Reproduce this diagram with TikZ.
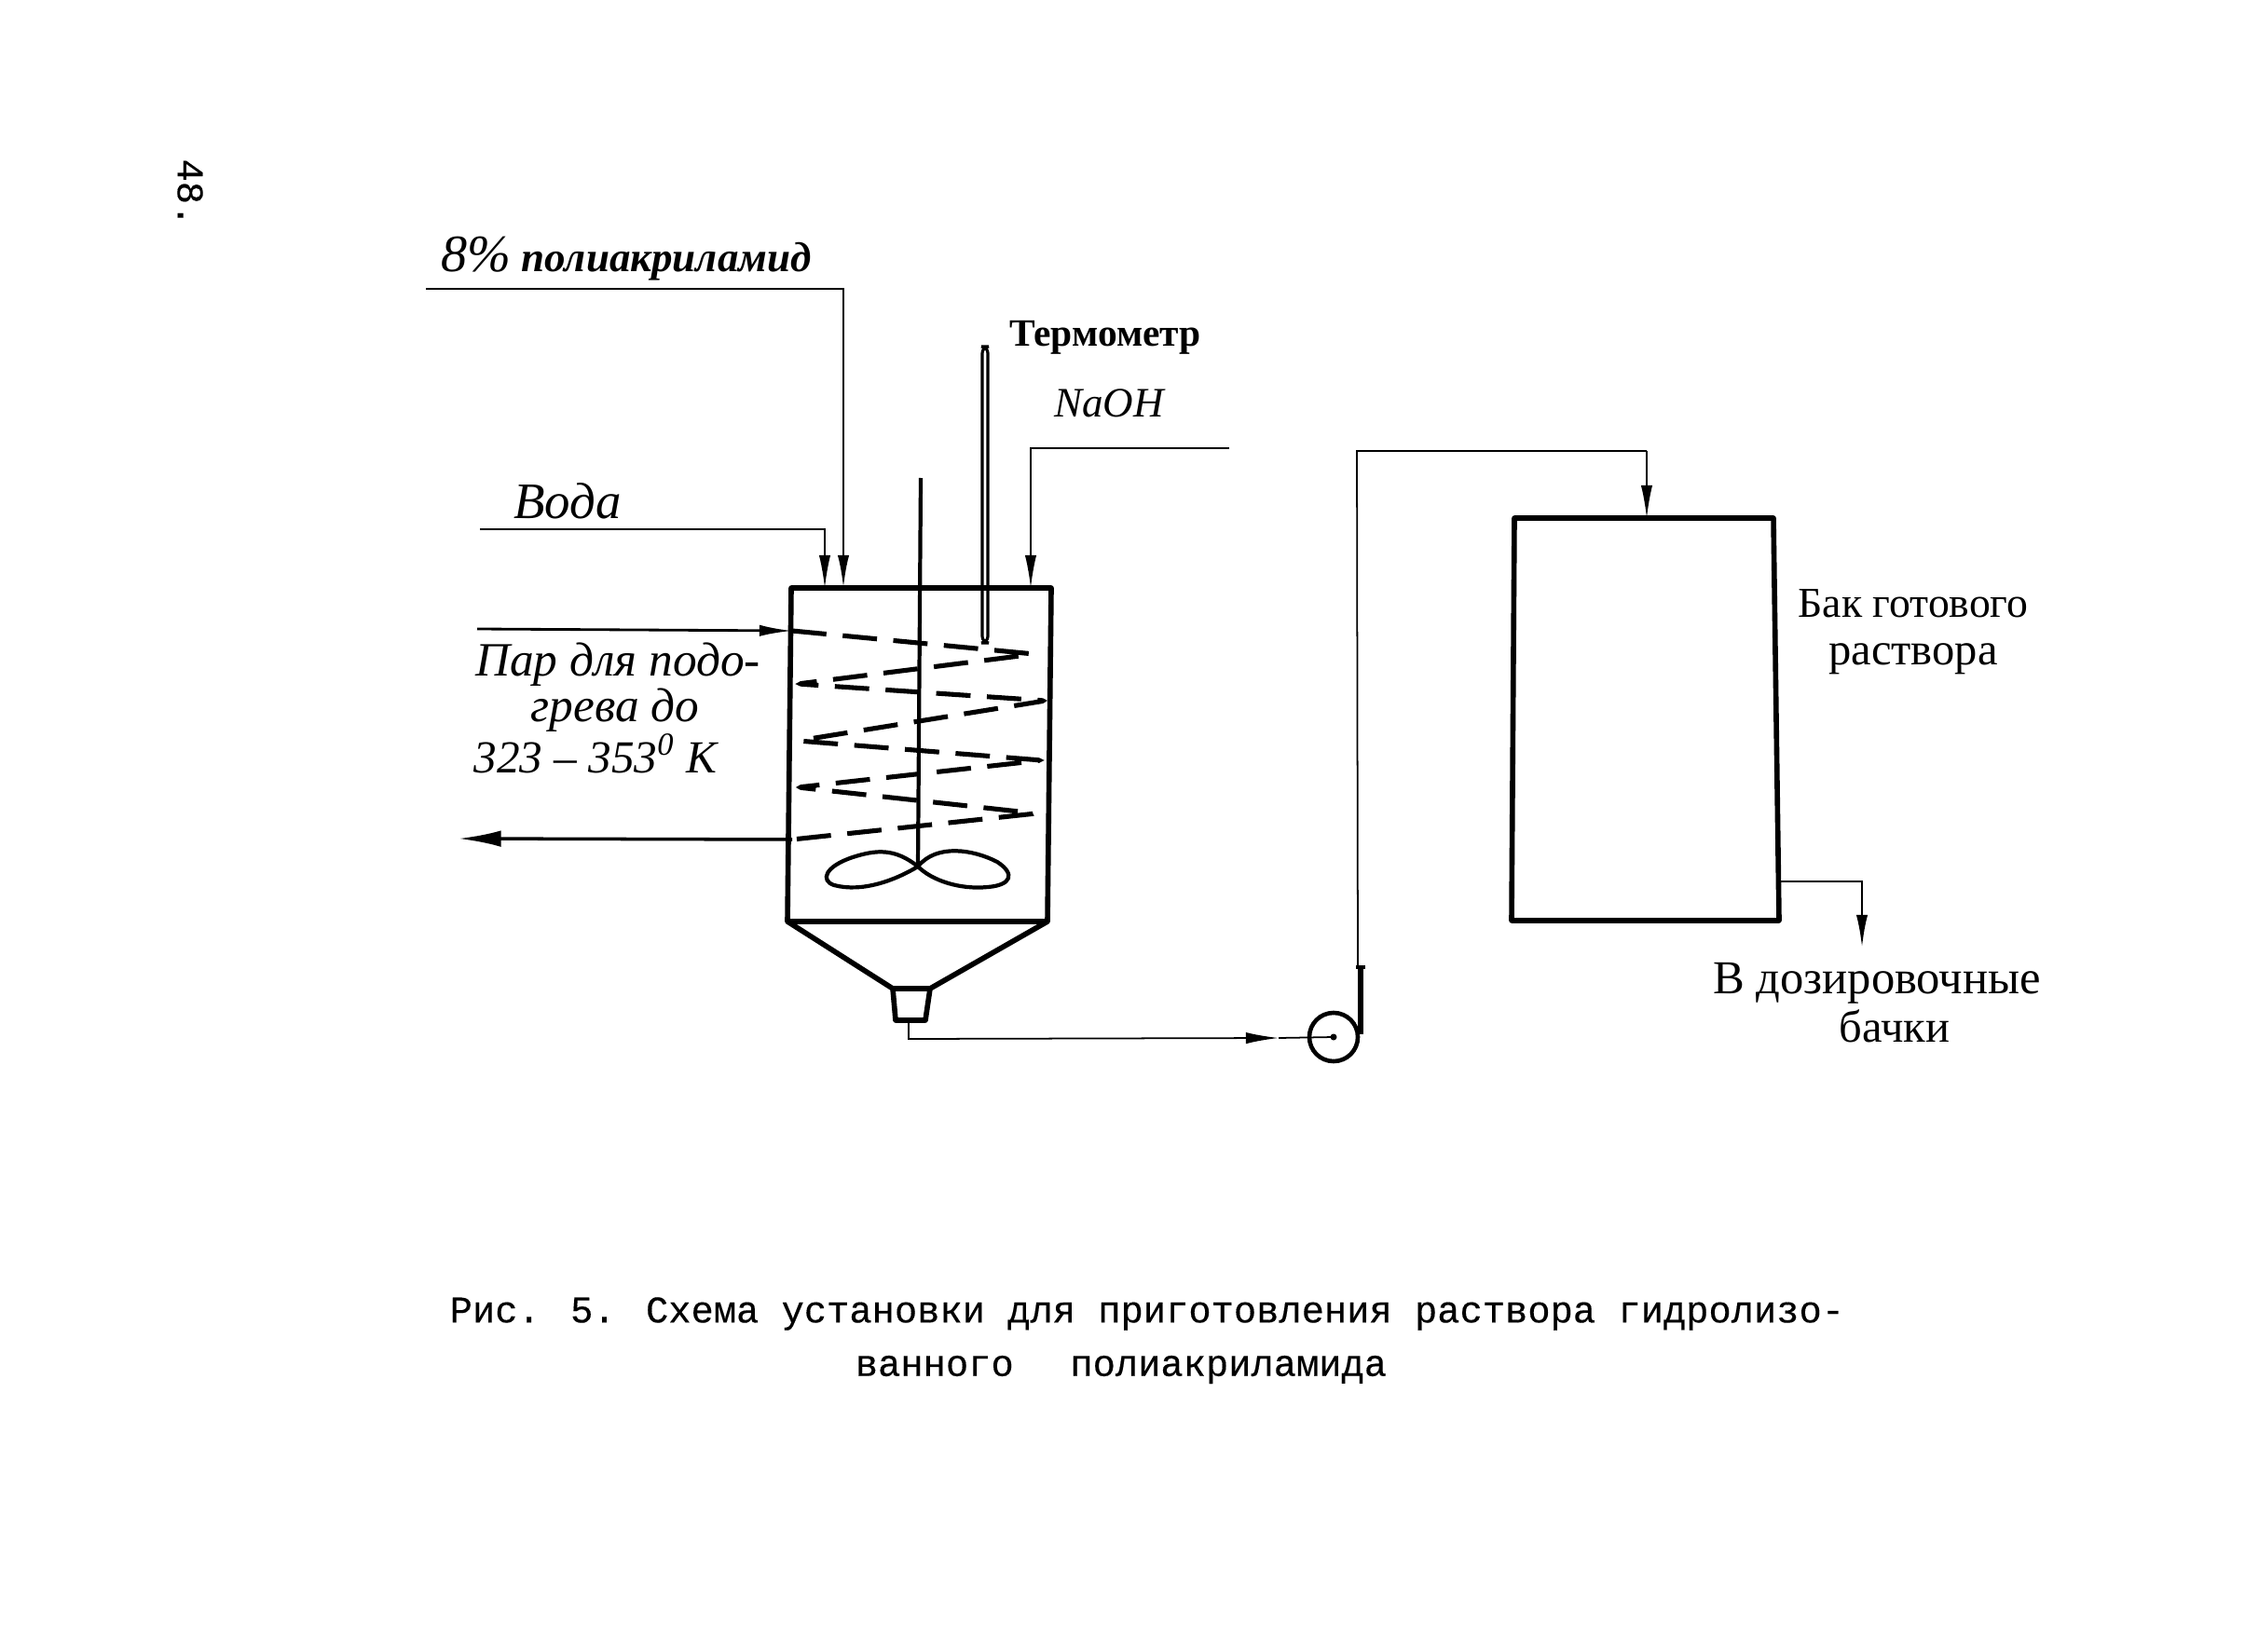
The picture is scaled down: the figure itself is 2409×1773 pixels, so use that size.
\documentclass[tikz,border=0pt]{standalone}
\usepackage{fontspec}
\setmainfont{Liberation Serif}
\newfontfamily\typefont[FakeBold=0.3]{Liberation Mono}
\usetikzlibrary{arrows.meta,calc,positioning}

\begin{document}
\begin{tikzpicture}[
  x=0.01cm,y=-0.01cm,
  >={Latex[length=10pt,width=3.5pt]},
  wall/.style={line width=1.6pt,line join=round},
  feed/.style={->,line width=0.8pt},
  pipe/.style={->,line width=0.5pt},
  coil/.style={line width=1.45pt,dash pattern=on 10.5pt off 5pt,rounded corners=1.5pt},
  hand/.style={font=\itshape\fontsize{14.6}{17}\selectfont,inner sep=0pt,anchor=base},
  plain/.style={font=\fontsize{13}{15}\selectfont,inner sep=0pt},
  caption/.style={font=\typefont\fontsize{11.5}{14}\selectfont,inner sep=0pt}
]
  \useasboundingbox (0,0) rectangle (2409,1773);

  % mixing vessel
  \coordinate (m1) at (849,631);
  \coordinate (m2) at (1128,631);
  \coordinate (m3) at (1124,989);
  \coordinate (m4) at (845,989);
  \coordinate (c1) at (958,1061);
  \coordinate (c2) at (998,1061);
  \coordinate (n1) at (961,1095);
  \coordinate (n2) at (993,1095);
  \draw[wall] (m1) -- (m2) -- (m3) -- (m4) -- cycle;
  \draw[wall] (m4) -- (c1) -- (c2) -- (m3);
  \draw[wall] (c1) -- (n1) -- (n2) -- (c2);

  % stirrer and thermometer
  \coordinate (s0) at (988,513);
  \coordinate (s1) at (985,930);
  \draw[line width=1.2pt] (s0) -- (s1);
  \draw[line width=1.2pt] (s1) .. controls (960,910) and (940,912) .. (915,920)
    .. controls (885,930) and (880,945) .. (895,950)
    .. controls (925,958) and (960,945) .. (s1)
    .. controls (1005,905) and (1045,912) .. (1070,925)
    .. controls (1090,938) and (1085,950) .. (1060,952)
    .. controls (1030,955) and (1000,945) .. (s1);
  \draw[line width=0.9pt,rounded corners=2pt] (1054,690) -- (1054,372) -- (1060,372) -- (1060,690) -- cycle;

  % heating coil
  \coordinate (h0) at (850,677);
  \coordinate (h9) at (850,901);
  \draw[coil] (h0) -- (1110,702) -- (856,734) -- (1122,752) -- (856,795)
    -- (1118,816) -- (856,845) -- (1112,873) -- (h9);

  % feeds into the vessel
  \coordinate (w0) at (515,568);
  \coordinate (w1) at (885,568);
  \coordinate (w2) at (885,631);
  \coordinate (p0) at (457,310);
  \coordinate (p1) at (905,310);
  \coordinate (p2) at (905,631);
  \coordinate (o0) at (1319,481);
  \coordinate (o1) at (1106,481);
  \coordinate (o2) at (1106,631);
  \coordinate (v0) at (512,675);
  \coordinate (v1) at (492,900);
  \draw[pipe] (w0) -- (w1) -- (w2);
  \draw[feed] (p0) -- (p1) -- (p2);
  \draw[pipe] (o0) -- (o1) -- (o2);
  \draw[feed] (v0) -- (h0);
  \draw[line width=1pt,-{Latex[length=13pt,width=5pt]}] (h9) -- (v1);

  % pump
  \node[circle,draw,line width=1.3pt,minimum size=0.52cm,inner sep=0pt] (pump) at (1431,1113) {};
  \fill (pump.center) circle (3.5);
  \coordinate (t0) at (975,1095);
  \coordinate (t1) at (975,1115);
  \coordinate (t2) at (1372,1114);
  \draw[pipe] (t0) -- (t1) -- (t2);
  \draw[line width=0.5pt] (t2) -- (pump.center);
  \coordinate (u0) at (1460,1110);
  \coordinate (u1) at (1460,1038);
  \coordinate (u2) at (1456,484);
  \coordinate (u3) at (1767,484);
  \draw[line width=1.5pt] (u0) -- (u1);
  \draw[line width=1pt] (1455,1038) -- (1465,1038);
  \draw[line width=0.5pt] (1457,1038) -- (u2) -- (u3);

  % finished solution tank
  \coordinate (b1) at (1625,556);
  \coordinate (b2) at (1903,556);
  \coordinate (b3) at (1909,988);
  \coordinate (b4) at (1622,988);
  \draw[wall] (b1) -- (b2) -- (b3) -- (b4) -- cycle;
  \draw[pipe] (u3) -- (1767,556);
  \coordinate (e0) at (1909,946);
  \coordinate (e1) at (1998,946);
  \coordinate (e2) at (1998,1017);
  \draw[feed] (e0) -- (e1) -- (e2);

  % labels
  \node[hand] (lab8) at (672,292) {\fontsize{16}{18}\selectfont 8\%\fontsize{12.8}{16}\selectfont\bfseries{} полиакриламид};
  \node[plain,font=\bfseries\fontsize{11.8}{15}\selectfont] (labterm) at (1186,362) {Термометр};
  \node[hand,font=\itshape\fontsize{12.8}{15}\selectfont] (labnaoh) at (1190,448) {NaOH};
  \node[hand,font=\itshape\fontsize{15.6}{18}\selectfont] (labwater) at (609,556) {Вода};
  \node[hand] (labsteam1) at (663,725) {Пар для подо-};
  \node[hand] (labsteam2) at (660,774) {грева до};
  \node[hand,font=\itshape\fontsize{14}{17}\selectfont] (labsteam3) at (639,829) {323 -- 353\textsuperscript{0} K};
  \node[plain] (labtank1) at (2053,648) {Бак готового};
  \node[plain,font=\fontsize{13.8}{15}\selectfont] (labtank2) at (2053,707) {раствора};
  \node[plain,font=\fontsize{14.4}{16}\selectfont] (labdose1) at (2014,1055) {В дозировочные};
  \node[plain,font=\fontsize{13.8}{15}\selectfont] (labdose2) at (2033,1101) {бачки};
  \node[caption] (cap1) at (1231,1410) {Рис. 5. Схема установки для приготовления раствора гидролизо-};
  \node[caption] (cap2) at (1203,1470) {ванного\hspace{1.5em}полиакриламида};
  \node[caption,rotate=-90] (pageno) at (204,207) {48.};
\end{tikzpicture}
\end{document}
